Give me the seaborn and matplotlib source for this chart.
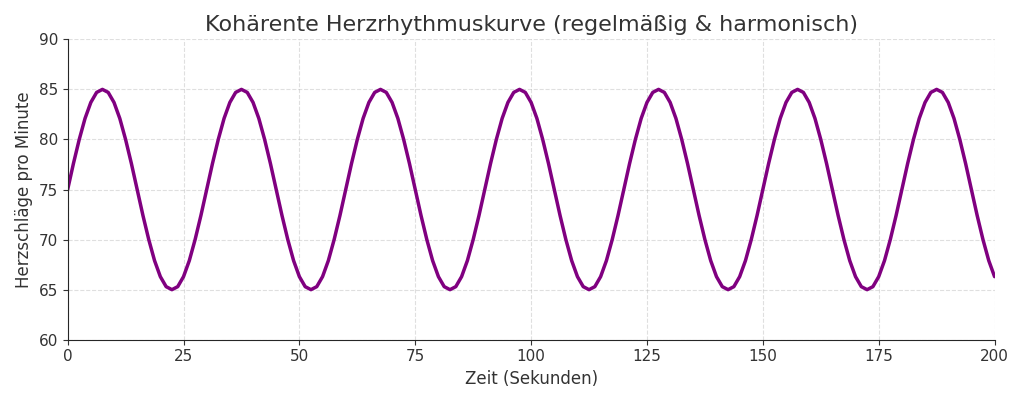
import matplotlib

matplotlib.use("Agg")
import matplotlib.pyplot as plt
import pandas as pd
import seaborn as sns

# heart rate every 1.25 s (period 30 s)
heart_rate = [
    75, 77.6, 80, 82.1, 83.7, 84.7, 85, 84.7, 83.7, 82.1, 80, 77.6, 75, 72.4, 70, 67.9, 66.3, 65.3, 65, 65.3, 66.3, 67.9, 70, 72.4,
    75, 77.6, 80, 82.1, 83.7, 84.7, 85, 84.7, 83.7, 82.1, 80, 77.6, 75, 72.4, 70, 67.9, 66.3, 65.3, 65, 65.3, 66.3, 67.9, 70, 72.4,
    75, 77.6, 80, 82.1, 83.7, 84.7, 85, 84.7, 83.7, 82.1, 80, 77.6, 75, 72.4, 70, 67.9, 66.3, 65.3, 65, 65.3, 66.3, 67.9, 70, 72.4,
    75, 77.6, 80, 82.1, 83.7, 84.7, 85, 84.7, 83.7, 82.1, 80, 77.6, 75, 72.4, 70, 67.9, 66.3, 65.3, 65, 65.3, 66.3, 67.9, 70, 72.4,
    75, 77.6, 80, 82.1, 83.7, 84.7, 85, 84.7, 83.7, 82.1, 80, 77.6, 75, 72.4, 70, 67.9, 66.3, 65.3, 65, 65.3, 66.3, 67.9, 70, 72.4,
    75, 77.6, 80, 82.1, 83.7, 84.7, 85, 84.7, 83.7, 82.1, 80, 77.6, 75, 72.4, 70, 67.9, 66.3, 65.3, 65, 65.3, 66.3, 67.9, 70, 72.4,
    75, 77.6, 80, 82.1, 83.7, 84.7, 85, 84.7, 83.7, 82.1, 80, 77.6, 75, 72.4, 70, 67.9, 66.3,
]
time_s = [i * 1.25 for i in range(len(heart_rate))]

frame = pd.DataFrame({"zeit": time_s, "puls": heart_rate})

sns.set_style("ticks")
plt.rcParams["font.family"] = ["DejaVu Sans"]

fig, ax = plt.subplots(figsize=(10.24, 4.03), dpi=100)
sns.lineplot(data=frame, x="zeit", y="puls", color="#800080", linewidth=2.5, ax=ax)
ax.set_xlim(0, 200)
ax.set_ylim(60, 90)
ax.set_xticks(range(0, 201, 25))
ax.set_yticks(range(60, 91, 5))
ax.grid(True, linestyle="--", alpha=0.4, color="#b0b0b0")
ax.set_xlabel("Zeit (Sekunden)", fontsize=12, color="#333333")
ax.set_ylabel("Herzschläge pro Minute", fontsize=12, color="#333333")
ax.set_title("Kohärente Herzrhythmuskurve (regelmäßig & harmonisch)", fontsize=16, color="#333333")
ax.tick_params(labelsize=11, colors="#333333")
sns.despine(ax=ax)
plt.tight_layout()
plt.savefig("out.png", dpi=100)
plt.close()
